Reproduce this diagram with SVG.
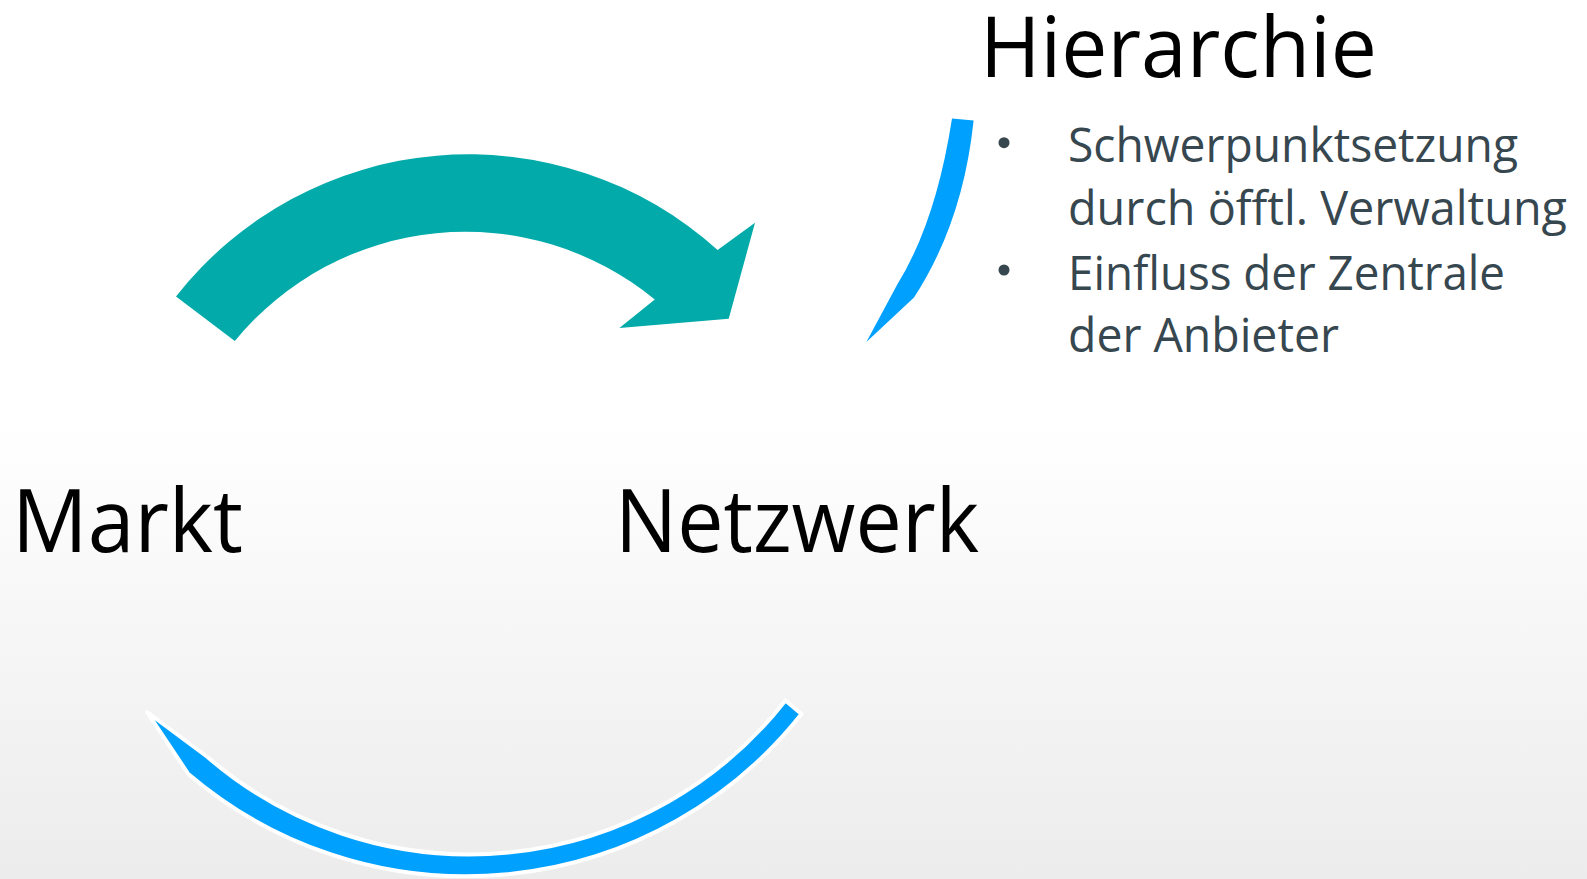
<svg xmlns="http://www.w3.org/2000/svg" width="1587" height="879" viewBox="0 0 1587 879">
  <defs>
    <linearGradient id="bg" x1="0" y1="0" x2="0" y2="1">
      <stop offset="0" stop-color="#ffffff"/>
      <stop offset="0.48" stop-color="#ffffff"/>
      <stop offset="1" stop-color="#ececec"/>
    </linearGradient>
    <style>
      .label { font-family: "Open Sans", "Liberation Sans", sans-serif; fill: #000000; }
      .bullet { font-family: "Open Sans", "Liberation Sans", sans-serif; fill: #37474f; font-size: 47px; }
      .dot { fill: #37474f; }
    </style>
  </defs>
  <rect x="0" y="0" width="1587" height="879" fill="url(#bg)"/>

  <g id="connectors">
    <path id="arrow-teal" fill="#02aaaa"
      d="M176,296.5 A372,372 0 0 1 717.6,250 L755,222.7 L728.7,318.8 L619.4,327.9 L654.8,299.6 A298,298 0 0 0 234.8,341.1 Z"/>
    <path id="arrow-blue-right" fill="#00a0ff"
      d="M952,118.4 L973.6,120.4 Q963,222 914,297.6 L866.4,342 L897,285 Q936,222 952,118.4 Z"/>
    <path id="arrow-blue-bottom" fill="#00a0ff" stroke="#ffffff" stroke-width="4" stroke-linejoin="round"
      d="M801.5,714 A428,428 0 0 1 188.3,774 L147,712 L207.5,757 A401,401 0 0 0 785.4,700.4 Z"/>
  </g>

  <g id="node-hierarchie">
    <text class="label" x="980" y="77" font-size="85" textLength="397" lengthAdjust="spacingAndGlyphs">Hierarchie</text>
    <circle class="dot" cx="1004" cy="142.7" r="5.5"/>
    <text class="bullet" x="1068" y="162" textLength="450" lengthAdjust="spacingAndGlyphs">Schwerpunktsetzung</text>
    <text class="bullet" x="1068" y="224.7" textLength="499" lengthAdjust="spacingAndGlyphs">durch öfftl. Verwaltung</text>
    <circle class="dot" cx="1004" cy="270" r="5.5"/>
    <text class="bullet" x="1068" y="289.5" textLength="437" lengthAdjust="spacingAndGlyphs">Einfluss der Zentrale</text>
    <text class="bullet" x="1068" y="352.2" textLength="271" lengthAdjust="spacingAndGlyphs">der Anbieter</text>
  </g>

  <g id="node-markt">
    <text class="label" x="12" y="551.6" font-size="88" textLength="231" lengthAdjust="spacingAndGlyphs">Markt</text>
  </g>

  <g id="node-netzwerk">
    <text class="label" x="615" y="551.6" font-size="88" textLength="364" lengthAdjust="spacingAndGlyphs">Netzwerk</text>
  </g>
</svg>
